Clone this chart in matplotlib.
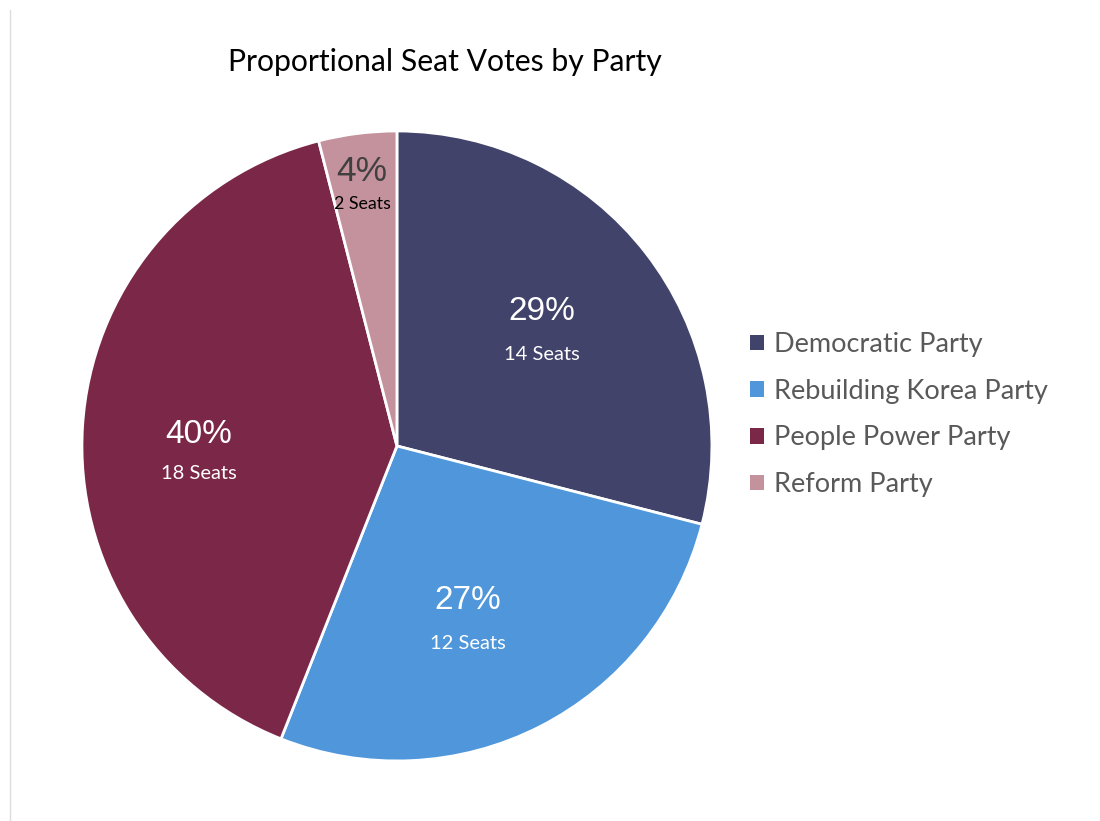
import matplotlib.pyplot as plt
from matplotlib.lines import Line2D
import numpy as np

parties = ["Democratic Party", "Rebuilding Korea Party", "People Power Party", "Reform Party"]
share = [29, 27, 40, 4]
seats = [14, 12, 18, 2]
colors = ["#41436A", "#4F97DA", "#7B2848", "#C4929D"]


def main():
    fig = plt.figure(figsize=(11, 8.21), dpi=100)
    ax = fig.add_axes([0.0745, 0.0731, 0.5727, 0.7674])
    wedges, _ = ax.pie(share, colors=colors, startangle=90, counterclock=False,
                       radius=1, wedgeprops=dict(edgecolor="white", linewidth=2))
    ax.set_xlim(-1, 1)
    ax.set_ylim(-1, 1)
    ax.set_aspect("equal")
    ax.axis("off")

    # label radius per slice, like excel best fit
    lab_r = [0.584, 0.603, 0.629, 0.828]
    lab_dang = [0, -5, 6, 0.5]
    gap = [0.068, 0.068, 0.062, 0.052]
    pct_col = ["white", "white", "white", "#404040"]
    pct_size = [24, 24, 24, 25.5]
    seat_col = ["white", "white", "white", "black"]
    seat_size = [14.5, 14.5, 14.5, 12.8]
    for i, w in enumerate(wedges):
        ang = np.deg2rad((w.theta1 + w.theta2) / 2 + lab_dang[i])
        x = lab_r[i] * np.cos(ang)
        y = lab_r[i] * np.sin(ang)
        ax.text(x, y + gap[i], f"{share[i]}%", ha="center", va="center",
                fontsize=pct_size[i], color=pct_col[i], family="Liberation Sans")
        ax.text(x, y - gap[i], f"{seats[i]} Seats", ha="center", va="center",
                fontsize=seat_size[i], color=seat_col[i], family="Lato")

    fig.text(0.404, 0.924, "Proportional Seat Votes by Party", ha="center", va="center",
             fontsize=21.7, family="Lato", color="black")

    leg = fig.legend(wedges, parties, loc="center left", bbox_to_anchor=(0.66, 0.4950),
                     frameon=False, handlelength=0.52, handleheight=0.52,
                     handletextpad=0.37, labelspacing=0.8, prop=dict(family="Lato", size=19.5))
    for t in leg.get_texts():
        t.set_color("#595959")
    for h in leg.legend_handles:
        h.set_edgecolor("none")

    fig.add_artist(Line2D([0.0095, 0.0095], [0.0, 0.988], color="#dddddd", linewidth=1))
    fig.savefig("out.png", dpi=100)


if __name__ == "__main__":
    main()
